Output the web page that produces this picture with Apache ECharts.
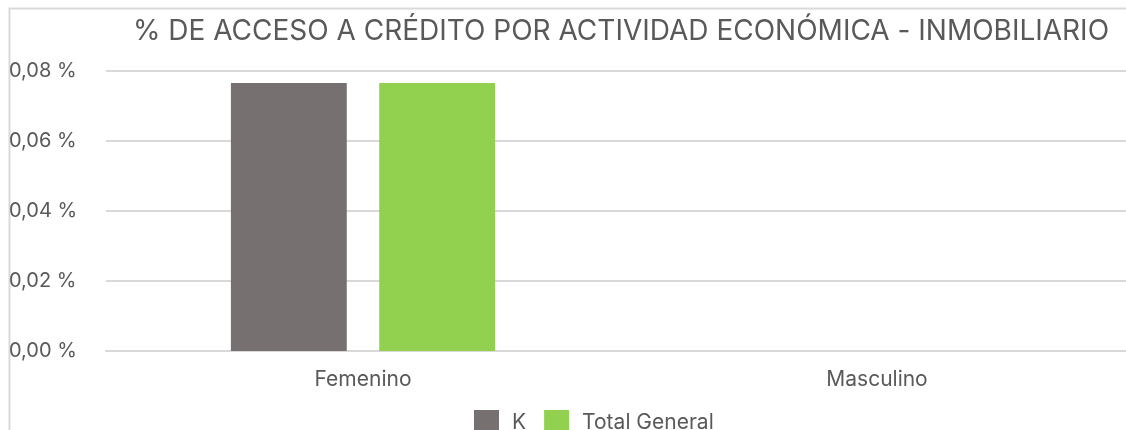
<!DOCTYPE html>
<html><head><meta charset="utf-8">
<script src="https://cdn.jsdelivr.net/npm/echarts@6/dist/echarts.min.js"></script>
<style>html,body{margin:0;padding:0;background:#fff}#c{width:1126px;height:430px}</style>
</head><body><div id="c"></div>
<script>
const categories = ['Femenino', 'Masculino'];
const seriesNames = ['K', 'Total General'];
const valuesK = [0.0766, 0];
const valuesTotal = [0.0766, 0];
const yTicks = [0, 0.02, 0.04, 0.06, 0.08];
const titleText = '% DE ACCESO A CRÉDITO POR ACTIVIDAD ECONÓMICA - INMOBILIARIO';

const FONT = 'Inter';
const TXT = '#595959';
const chart = echarts.init(document.getElementById('c'), null, {renderer: 'canvas'});
chart.setOption({
  animation: false,
  textStyle: {fontFamily: FONT},
  graphic: [{
    type: 'rect', left: 7, top: 6, z: -1,
    shape: {width: 1200, height: 500},
    style: {fill: 'none', stroke: '#d9d9d9', lineWidth: 2}
  }],
  title: {
    text: titleText, left: 616, top: 13, textAlign: 'center',
    textStyle: {fontFamily: FONT, fontSize: 28, fontWeight: 400, color: TXT}
  },
  legend: {
    data: seriesNames, top: 405, left: 469,
    itemWidth: 25, itemHeight: 25, itemGap: 18,
    icon: 'rect',
    textStyle: {fontFamily: FONT, fontSize: 21, color: TXT, fontWeight: 400, padding: [0, 0, 0, 8]}
  },
  grid: {left: 106, width: 1028, top: 71, height: 280, containLabel: false, outerBoundsMode: 'none'},
  xAxis: {
    type: 'category', data: categories,
    axisLine: {show: true, lineStyle: {color: '#d9d9d9', width: 2}},
    axisTick: {show: false},
    axisLabel: {color: TXT, fontSize: 21, fontFamily: FONT, fontWeight: 400, margin: 18}
  },
  yAxis: {
    type: 'value', min: yTicks[0], max: yTicks[yTicks.length - 1], interval: 0.02,
    axisLine: {show: false}, axisTick: {show: false},
    splitLine: {lineStyle: {color: '#d9d9d9', width: 2}},
    axisLabel: {
      color: TXT, fontSize: 20, fontFamily: FONT, fontWeight: 400, align: 'left', margin: 97,
      formatter: v => v.toFixed(2).replace('.', ',') + ' %'
    }
  },
  series: [
    {name: seriesNames[0], type: 'bar', data: valuesK, itemStyle: {color: '#767170'}, barGap: '28%', barCategoryGap: '48.6%'},
    {name: seriesNames[1], type: 'bar', data: valuesTotal, itemStyle: {color: '#92D050'}}
  ]
});
</script></body></html>
